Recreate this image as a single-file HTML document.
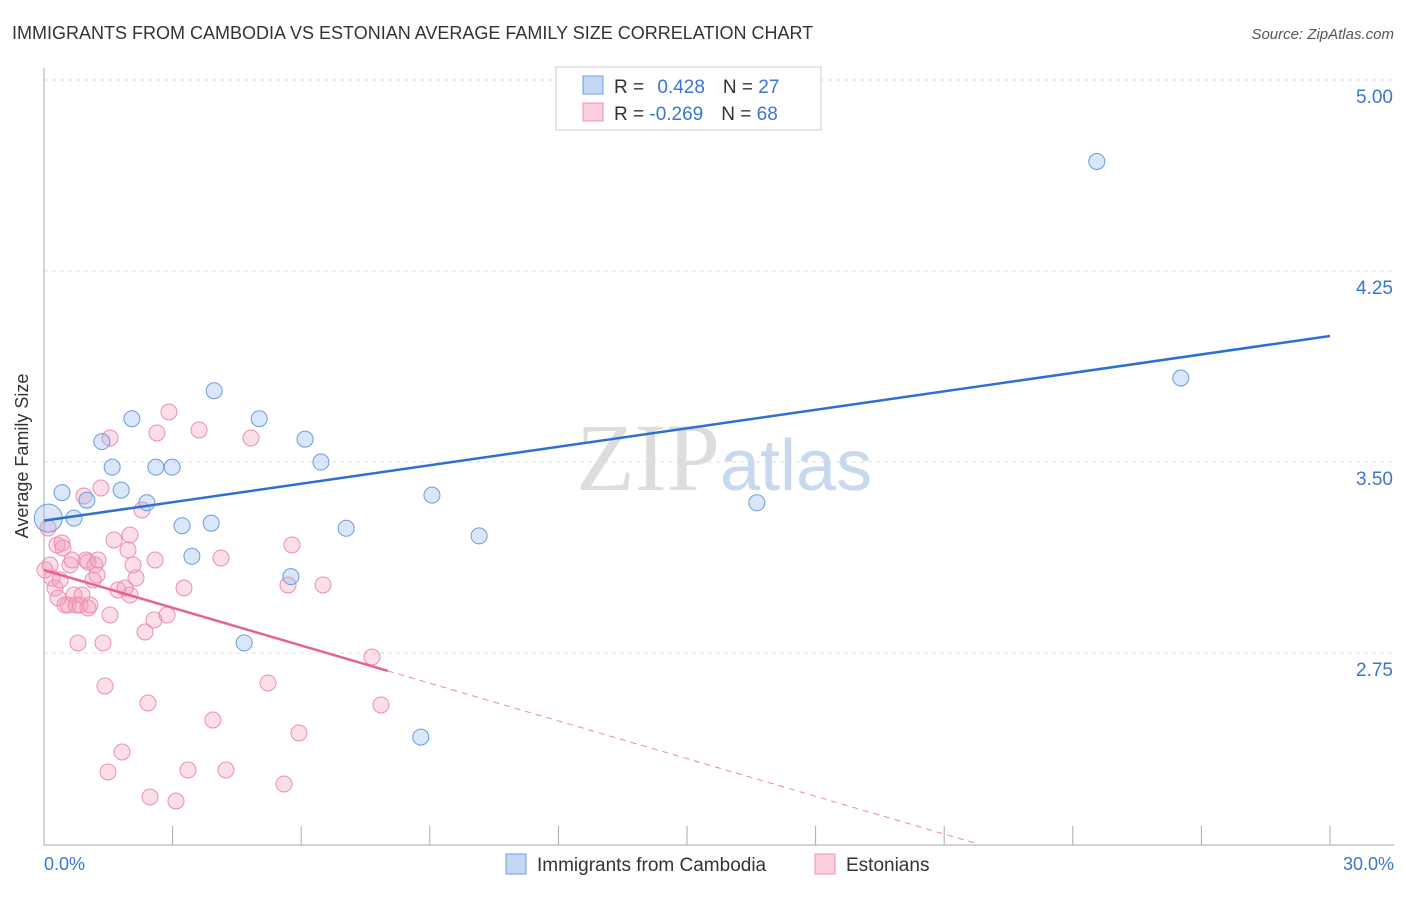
<!DOCTYPE html>
<html><head><meta charset="utf-8"><style>
body{margin:0;background:#fff;font-family:"Liberation Sans",sans-serif;}
</style></head><body>
<svg width="1406" height="892" xmlns="http://www.w3.org/2000/svg">
<text x="12" y="39" font-size="18" fill="#333">IMMIGRANTS FROM CAMBODIA VS ESTONIAN AVERAGE FAMILY SIZE CORRELATION CHART</text>
<text x="1394" y="39" font-size="15" fill="#555" font-style="italic" text-anchor="end">Source: ZipAtlas.com</text>
<g id="grid"></g>
<g id="axes"></g>
<text x="720" y="490" font-size="96" fill="#ddd" font-family="Liberation Serif" text-anchor="end">ZIP</text>
<text x="720" y="490" font-size="72" fill="#c8d8ee">atlas</text>
<g id="marks"></g>
<text x="28" y="456" font-size="18" fill="#333" text-anchor="middle" transform="rotate(-90 28 456)">Average Family Size</text>
<text x="44" y="870" font-size="18" fill="#3a76d0">0.0%</text>
<text x="1394" y="870" font-size="18" fill="#3a76d0" text-anchor="end">30.0%</text>
<g>
<rect x="556" y="67" width="265" height="63" fill="#fff" stroke="#ccc"/>
<rect x="583" y="76" width="20" height="18" fill="#c4d8f4" stroke="#6b9be0"/>
<rect x="583" y="103" width="20" height="18" fill="#fbcfe0" stroke="#ee92b4"/>
<text x="614" y="93" font-size="19" fill="#333">R = <tspan fill="#3a76d0" dx="8">0.428</tspan><tspan dx="18" fill="#333">N = </tspan><tspan fill="#3a76d0">27</tspan></text>
<text x="614" y="120" font-size="19" fill="#333">R = <tspan fill="#3a76d0">-0.269</tspan><tspan dx="18" fill="#333">N = </tspan><tspan fill="#3a76d0">68</tspan></text>
</g>
<g>
<rect x="506" y="854" width="20" height="20" fill="#c4d8f4" stroke="#6b9be0"/>
<text x="537" y="871" font-size="19" fill="#333">Immigrants from Cambodia</text>
<rect x="815" y="854" width="20" height="20" fill="#fbcfe0" stroke="#ee92b4"/>
<text x="846" y="871" font-size="19" fill="#333">Estonians</text>
</g>
</svg>
<script>
const yTicks=[5.00,4.25,3.50,2.75];
const xTickCount=10;
const blueX=[0.1,0.42,0.7,1.0,1.35,1.59,1.8,2.05,2.4,2.61,2.99,3.22,3.45,3.9,3.97,4.67,5.02,5.76,6.09,6.46,7.05,8.79,9.05,10.15,16.63,24.56,26.52];
const blueY=[3.28,3.38,3.28,3.35,3.58,3.48,3.39,3.67,3.34,3.48,3.48,3.25,3.13,3.26,3.78,2.79,3.67,3.05,3.59,3.50,3.24,2.42,3.37,3.21,3.34,4.68,3.83];
const pinkPx=[48,50,52,55,57,60,62,65,68,70,72,74,76,78,80,82,84,86,88,90,93,95,97,101,103,105,108,110,110,114,118,122,128,130,130,133,136,142,145,148,150,154,155,157,167,169,176,184,188,199,213,221,226,251,268,284,288,292,299,323,372,381,63,45,88,98,125,58];
const pinkPy=[528,565,578,588,545,580,543,605,605,565,560,595,605,643,605,595,496,560,608,605,580,565,575,488,643,686,772,615,438,540,590,752,550,595,535,565,578,510,632,703,797,620,560,433,615,412,801,588,770,430,720,558,770,438,683,784,585,545,733,585,657,705,548,570,562,560,588,598];
const pinkX=pinkPx.map(p=>(p-44)/1286*30);
const pinkY=pinkPy.map(p=>5-(p-80)/254.7);
const blueLine=[[0,3.27],[30,3.995]];
const pinkLine=[[0,3.076],[8.02,2.68],[21.8,2.0]];
const X=v=>44+v/30*1286, Y=v=>80+(5-v)*254.7;
const NS="http://www.w3.org/2000/svg";
function mk(t,a,p){const e=document.createElementNS(NS,t);for(const k in a)e.setAttribute(k,a[k]);p.appendChild(e);return e;}
const grid=document.getElementById('grid'),axes=document.getElementById('axes'),marks=document.getElementById('marks');
yTicks.forEach(v=>{const l=mk('line',{x1:44,x2:1394,y1:Y(v),y2:Y(v),stroke:'#ddd','stroke-dasharray':'4,4'},grid);

const t=mk('text',{x:1393,y:Y(v)+23,'font-size':19,fill:'#3a76d0','text-anchor':'end'},axes);t.textContent=v.toFixed(2);
});
mk('line',{x1:44,x2:44,y1:68,y2:845,stroke:'#aaa'},axes);
mk('line',{x1:44,x2:1394,y1:845,y2:845,stroke:'#aaa'},axes);
for(let i=0;i<=xTickCount;i++){const t=mk('line',{x1:X(i*3),x2:X(i*3),y1:826,y2:845,stroke:'#aaa'},axes);
}
pinkX.forEach((x,i)=>{const c=mk('circle',{cx:X(x),cy:Y(pinkY[i]),r:8,fill:'rgba(244,160,190,0.35)',stroke:'#ec8fb2','stroke-width':1},marks);
});
blueX.forEach((x,i)=>{const c=mk('circle',{cx:X(x),cy:Y(blueY[i]),r:i==0?14:8,fill:'rgba(150,185,235,0.35)',stroke:'#6b9be0','stroke-width':1},marks);
});
const bl=mk('line',{x1:X(blueLine[0][0]),y1:Y(blueLine[0][1]),x2:X(blueLine[1][0]),y2:Y(blueLine[1][1]),stroke:'#2d6fd4','stroke-width':2.5},marks);

const pl=mk('line',{x1:X(pinkLine[0][0]),y1:Y(pinkLine[0][1]),x2:X(pinkLine[1][0]),y2:Y(pinkLine[1][1]),stroke:'#e4648f','stroke-width':2.5},marks);

const pd=mk('line',{x1:X(pinkLine[1][0]),y1:Y(pinkLine[1][1]),x2:X(pinkLine[2][0]),y2:Y(pinkLine[2][1]),stroke:'#e88aab','stroke-width':1,'stroke-dasharray':'6,5'},marks);

</script>
</body></html>
